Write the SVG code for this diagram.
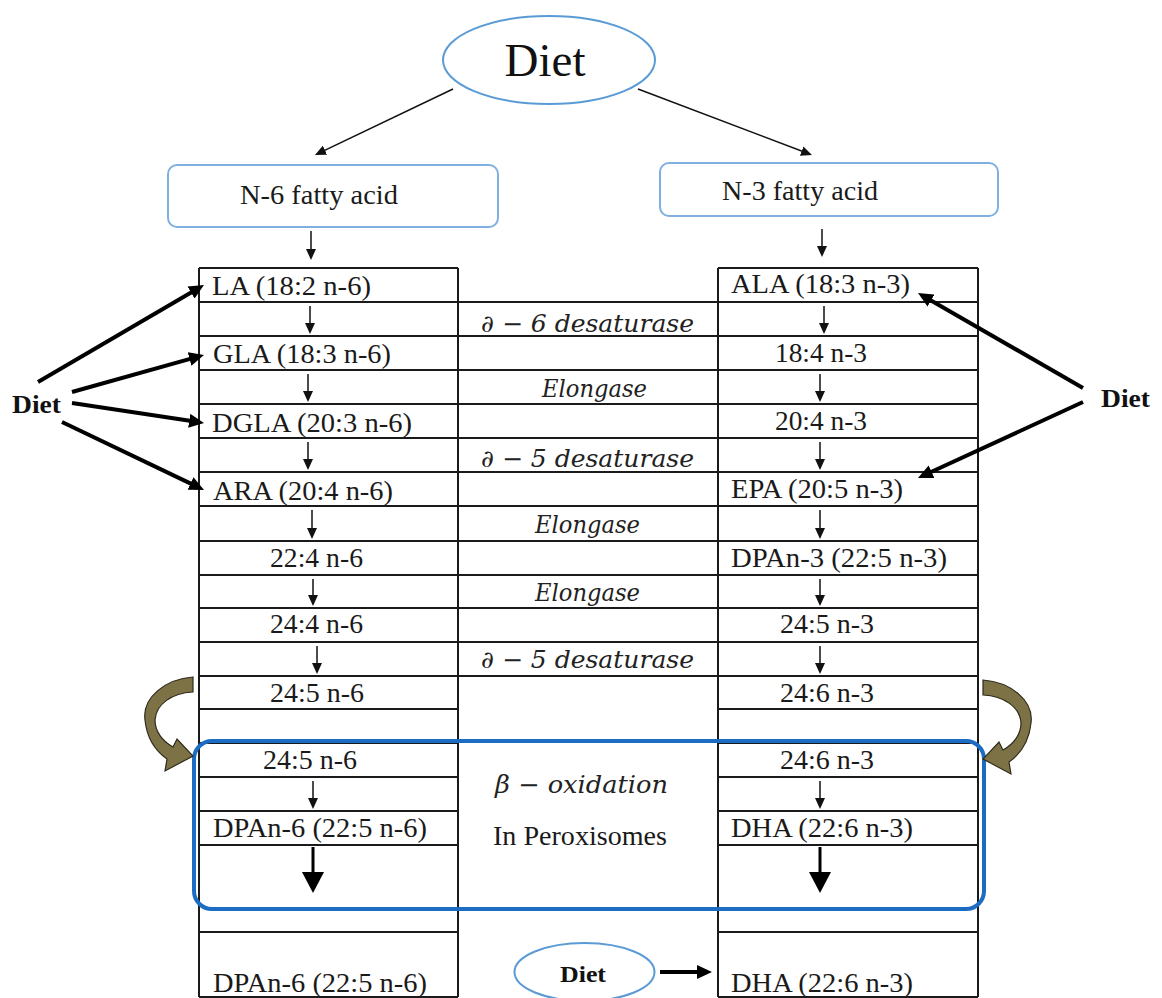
<svg xmlns="http://www.w3.org/2000/svg" width="1162" height="998" viewBox="0 0 1162 998">
<style>
.t{font-family:"Liberation Serif","Times New Roman",serif;font-size:27px;fill:#1a1a1a}
.m{font-family:"DejaVu Serif","Liberation Serif",serif;font-style:italic;font-size:24px;fill:#222}
.b{font-family:"Liberation Serif","Times New Roman",serif;font-weight:bold;fill:#111}
.g{stroke:#1a1a1a;stroke-width:2;fill:none}
.thin{stroke:#111;stroke-width:1.5;fill:none;marker-end:url(#ah)}
.thick{stroke:#000;stroke-width:4;fill:none;marker-end:url(#ahb)}
.big{stroke:#000;stroke-width:3;fill:none;marker-end:url(#ahbig)}
.curve{fill:#7d7245;stroke:#2e2b1c;stroke-width:1.2}
</style>
<defs>
<marker id="ah" markerUnits="userSpaceOnUse" markerWidth="11" markerHeight="10" refX="9" refY="5" orient="auto"><path d="M0,0 L11,5 L0,10 z" fill="#111"/></marker>
<marker id="ahb" markerUnits="userSpaceOnUse" markerWidth="15" markerHeight="14" refX="9" refY="7" orient="auto"><path d="M0,0 L15,7 L0,14 z" fill="#000"/></marker>
<marker id="ahbig" markerUnits="userSpaceOnUse" markerWidth="21" markerHeight="22" refX="16" refY="11" orient="auto"><path d="M0,0 L21,11 L0,22 z" fill="#000"/></marker>
<path id="carrow" d="M193,677 C166,679 142,697 145,720 C147,740 157,752 167,759 L165,771 L193,756 L177,739 L173,747 C162,741 155,731 155,720 C156,704 172,693 193,692 Z"/>
</defs>
<rect width="1162" height="998" fill="#fff"/>

<g id="diet-top">
<ellipse cx="549" cy="60" rx="106" ry="44" fill="#fff" stroke="#5b9bd5" stroke-width="2"/>
<text x="545" y="76" text-anchor="middle" style="font-family:'Liberation Serif',serif;font-size:47px;fill:#111">Diet</text>
</g>
<g id="n6-box">
<rect x="168" y="165" width="330" height="62" rx="9" fill="#fff" stroke="#7fb0e0" stroke-width="2"/>
<text class="t" x="240" y="204" textLength="158" lengthAdjust="spacingAndGlyphs">N-6 fatty acid</text>
</g>
<g id="n3-box">
<rect x="660" y="163" width="338" height="53" rx="9" fill="#fff" stroke="#7fb0e0" stroke-width="2"/>
<text class="t" x="722" y="200" textLength="156" lengthAdjust="spacingAndGlyphs">N-3 fatty acid</text>
</g>

<g id="table" class="g">
<line x1="199" y1="268" x2="199" y2="997"/>
<line x1="458" y1="268" x2="458" y2="997"/>
<line x1="718" y1="268" x2="718" y2="997"/>
<line x1="978" y1="268" x2="978" y2="997"/>
<path d="M199,302H978M199,336H978M199,370H978M199,404H978M199,438H978M199,472H978M199,506H978M199,541H978M199,575H978M199,608H978M199,642H978M199,676H978"/>
<path d="M199,268H458M718,268H978M199,709H458M718,709H978M199,743H458M718,743H978M199,777H458M718,777H978M199,811H458M718,811H978M199,845H458M718,845H978M199,932H458M718,932H978M199,997H458M718,997H978"/>
</g>

<g id="n6-column">
<text class="t" x="212" y="295" textLength="159" lengthAdjust="spacingAndGlyphs">LA (18:2 n-6)</text>
<text class="t" x="213" y="363" textLength="178" lengthAdjust="spacingAndGlyphs">GLA (18:3 n-6)</text>
<text class="t" x="212" y="432" textLength="200" lengthAdjust="spacingAndGlyphs">DGLA (20:3 n-6)</text>
<text class="t" x="213" y="500" textLength="180" lengthAdjust="spacingAndGlyphs">ARA (20:4 n-6)</text>
<text class="t" x="270" y="567" textLength="93" lengthAdjust="spacingAndGlyphs">22:4 n-6</text>
<text class="t" x="270" y="633" textLength="93" lengthAdjust="spacingAndGlyphs">24:4 n-6</text>
<text class="t" x="270" y="702" textLength="94" lengthAdjust="spacingAndGlyphs">24:5 n-6</text>
<text class="t" x="263" y="769" textLength="94" lengthAdjust="spacingAndGlyphs">24:5 n-6</text>
<text class="t" x="213" y="837" textLength="214" lengthAdjust="spacingAndGlyphs">DPAn-6 (22:5 n-6)</text>
<text class="t" x="213" y="992" textLength="214" lengthAdjust="spacingAndGlyphs">DPAn-6 (22:5 n-6)</text>
</g>

<g id="n3-column">
<text class="t" x="731" y="293" textLength="179" lengthAdjust="spacingAndGlyphs">ALA (18:3 n-3)</text>
<text class="t" x="775" y="362" textLength="92" lengthAdjust="spacingAndGlyphs">18:4 n-3</text>
<text class="t" x="775" y="430" textLength="92" lengthAdjust="spacingAndGlyphs">20:4 n-3</text>
<text class="t" x="731" y="498" textLength="172" lengthAdjust="spacingAndGlyphs">EPA (20:5 n-3)</text>
<text class="t" x="731" y="567" textLength="216" lengthAdjust="spacingAndGlyphs">DPAn-3 (22:5 n-3)</text>
<text class="t" x="780" y="633" textLength="94" lengthAdjust="spacingAndGlyphs">24:5 n-3</text>
<text class="t" x="780" y="702" textLength="94" lengthAdjust="spacingAndGlyphs">24:6 n-3</text>
<text class="t" x="780" y="769" textLength="94" lengthAdjust="spacingAndGlyphs">24:6 n-3</text>
<text class="t" x="731" y="837" textLength="182" lengthAdjust="spacingAndGlyphs">DHA (22:6 n-3)</text>
<text class="t" x="731" y="992" textLength="182" lengthAdjust="spacingAndGlyphs">DHA (22:6 n-3)</text>
</g>

<g id="enzymes">
<text class="m" x="481" y="332" textLength="213" lengthAdjust="spacingAndGlyphs">∂ − 6 desaturase</text>
<text class="m" x="542" y="397" textLength="105" lengthAdjust="spacingAndGlyphs">Elongase</text>
<text class="m" x="481" y="467" textLength="213" lengthAdjust="spacingAndGlyphs">∂ − 5 desaturase</text>
<text class="m" x="535" y="533" textLength="105" lengthAdjust="spacingAndGlyphs">Elongase</text>
<text class="m" x="535" y="601" textLength="105" lengthAdjust="spacingAndGlyphs">Elongase</text>
<text class="m" x="481" y="668" textLength="213" lengthAdjust="spacingAndGlyphs">∂ − 5 desaturase</text>
</g>

<g id="peroxisome">
<rect x="194" y="741" width="790" height="168" rx="18" fill="none" stroke="#1b6cc2" stroke-width="4"/>
<text class="m" x="495" y="793" textLength="173" lengthAdjust="spacingAndGlyphs">β − oxidation</text>
<text class="t" x="493" y="845" textLength="174" lengthAdjust="spacingAndGlyphs">In Peroxisomes</text>
</g>

<g id="diet-left">
<text class="b" x="12" y="413" font-size="25" textLength="49" lengthAdjust="spacingAndGlyphs">Diet</text>
</g>
<g id="diet-right">
<text class="b" x="1101" y="407" font-size="25" textLength="49" lengthAdjust="spacingAndGlyphs">Diet</text>
</g>
<g id="diet-bottom">
<ellipse cx="584.5" cy="972" rx="70" ry="29" fill="#fff" stroke="#5b9bd5" stroke-width="2"/>
<text class="b" x="560" y="982" font-size="24" textLength="46" lengthAdjust="spacingAndGlyphs">Diet</text>
</g>

<g id="connectors">
<line class="thin" x1="453" y1="89" x2="316.8" y2="154.1"/>
<line class="thin" x1="638" y1="89" x2="810.1" y2="154.3"/>
<line class="thin" x1="311" y1="231" x2="311" y2="258"/>
<line class="thin" x1="822" y1="229" x2="822" y2="255"/>
<line class="thin" x1="310" y1="306" x2="310" y2="332"/>
<line class="thin" x1="308" y1="374" x2="308" y2="400"/>
<line class="thin" x1="308" y1="442" x2="308" y2="468"/>
<line class="thin" x1="312" y1="510" x2="312" y2="537"/>
<line class="thin" x1="313" y1="579" x2="313" y2="604"/>
<line class="thin" x1="317" y1="646" x2="317" y2="672"/>
<line class="thin" x1="313" y1="781" x2="313" y2="807"/>
<line class="thin" x1="824" y1="306" x2="824" y2="332"/>
<line class="thin" x1="820" y1="374" x2="820" y2="400"/>
<line class="thin" x1="820" y1="442" x2="820" y2="468"/>
<line class="thin" x1="820" y1="510" x2="820" y2="537"/>
<line class="thin" x1="820" y1="579" x2="820" y2="604"/>
<line class="thin" x1="820" y1="646" x2="820" y2="672"/>
<line class="thin" x1="820" y1="781" x2="820" y2="807"/>
<line class="big" x1="313" y1="847" x2="313" y2="888"/>
<line class="big" x1="820" y1="847" x2="820" y2="888"/>
<line class="thick" x1="38" y1="382" x2="198.8" y2="288"/>
<line class="thick" x1="72" y1="392" x2="198.2" y2="356.6"/>
<line class="thick" x1="72" y1="403" x2="198.1" y2="422.1"/>
<line class="thick" x1="62" y1="422" x2="198.6" y2="487.4"/>
<line class="thick" x1="1083" y1="388" x2="923.2" y2="296"/>
<line class="thick" x1="1083" y1="402" x2="923.4" y2="475.5"/>
<line class="thick" x1="660" y1="972" x2="706" y2="972"/>
<use href="#carrow" class="curve"/>
<use href="#carrow" class="curve" transform="translate(1176,3) scale(-1,1)"/>
</g>
</svg>
